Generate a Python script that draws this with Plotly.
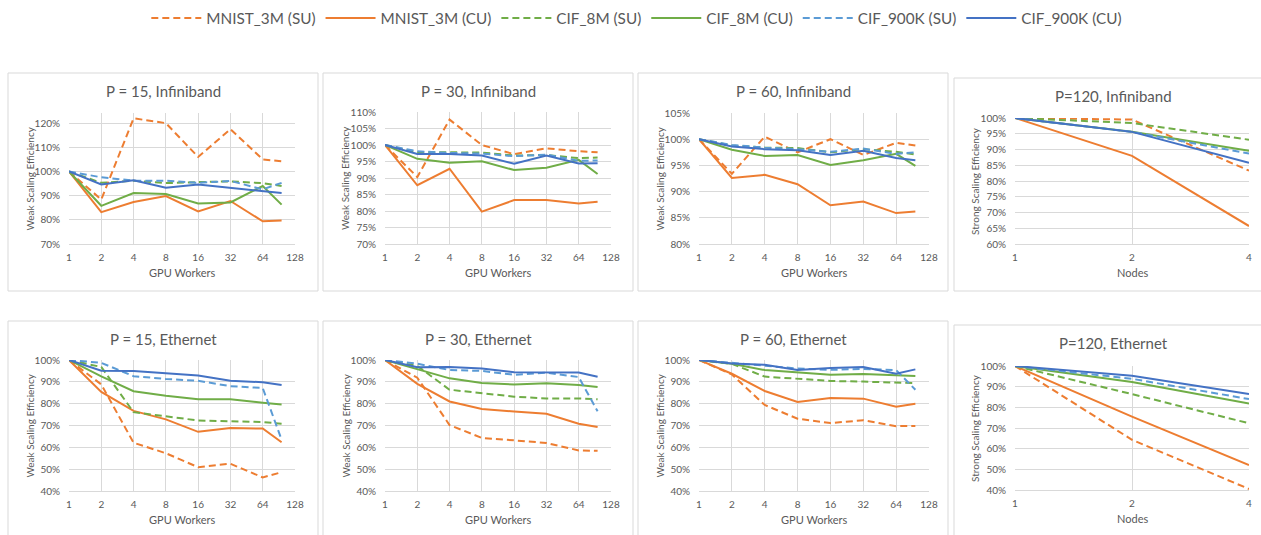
import math
import plotly.graph_objects as go

W, H = 1261, 535

series_names = ["MNIST_3M (SU)", "MNIST_3M (CU)", "CIF_8M (SU)", "CIF_8M (CU)", "CIF_900K (SU)", "CIF_900K (CU)"]
series_colors = ["#ED7D31", "#ED7D31", "#70AD47", "#70AD47", "#5B9BD5", "#4472C4"]
series_dash = ["7px,4px", "solid", "7px,4px", "solid", "7px,4px", "solid"]

gpu_workers = [1, 2, 4, 8, 16, 32, 64, 96]
gpu_ticks = [1, 2, 4, 8, 16, 32, 64, 128]
nodes = [1, 2, 4]
node_ticks = [1, 2, 4]

# P = 15, Infiniband (weak scaling, %)
ib15_mnist_su = [100, 88.4, 122, 120, 106, 117.5, 105, 104.2]
ib15_mnist_cu = [100, 83.2, 87.4, 89.8, 83.5, 87.8, 79.4, 79.7]
ib15_cif8_su = [100, 95.3, 96.2, 95.2, 95.6, 95.9, 95.2, 94.0]
ib15_cif8_cu = [100, 85.8, 91.1, 90.7, 86.8, 87.2, 94.0, 86.3]
ib15_cif900_su = [100, 97.6, 96.2, 96.2, 95.3, 96.1, 92.6, 95.3]
ib15_cif900_cu = [100, 94.6, 96.4, 93.3, 94.6, 93.2, 92.0, 91.1]

# P = 30, Infiniband
ib30_mnist_su = [100, 90.3, 107.7, 100, 97.2, 99.0, 98.1, 97.8]
ib30_mnist_cu = [100, 87.8, 92.8, 79.8, 83.3, 83.3, 82.3, 82.8]
ib30_cif8_su = [100, 97.8, 97.8, 97.7, 96.8, 97.0, 96.0, 96.2]
ib30_cif8_cu = [100, 95.8, 94.6, 95.1, 92.4, 93.1, 95.5, 91.2]
ib30_cif900_su = [100, 98.1, 97.6, 97.4, 96.6, 97.1, 95.2, 95.3]
ib30_cif900_cu = [100, 97.3, 97.3, 96.8, 94.3, 96.8, 94.4, 94.5]

# P = 60, Infiniband
ib60_mnist_su = [100, 93.4, 100.5, 97.5, 100, 97.0, 99.3, 98.8]
ib60_mnist_cu = [100, 92.6, 93.2, 91.4, 87.4, 88.1, 85.9, 86.2]
ib60_cif8_su = [100, 98.8, 98.4, 98.3, 97.5, 98.1, 97.6, 97.1]
ib60_cif8_cu = [100, 98.0, 96.8, 97.0, 95.1, 96.0, 97.2, 94.9]
ib60_cif900_su = [100, 98.9, 98.4, 98.1, 97.6, 98.2, 97.2, 97.5]
ib60_cif900_cu = [100, 98.6, 98.1, 97.9, 97.0, 97.8, 96.4, 96.0]

# P = 120, Infiniband (strong scaling, %)
ib120_mnist_su = [100, 99.5, 83.3]
ib120_mnist_cu = [100, 88.0, 65.7]
ib120_cif8_su = [100, 98.4, 93.1]
ib120_cif8_cu = [100, 95.6, 89.6]
ib120_cif900_su = [100, 95.6, 88.7]
ib120_cif900_cu = [100, 95.6, 85.8]

# P = 15, Ethernet
eth15_mnist_su = [100, 88.8, 62.1, 57.3, 50.9, 52.5, 46.2, 48.6]
eth15_mnist_cu = [100, 85.4, 76.7, 72.8, 67.1, 68.9, 68.6, 62.3]
eth15_cif8_su = [100, 96.8, 76.1, 74.3, 72.3, 71.9, 71.6, 70.8]
eth15_cif8_cu = [100, 92.5, 85.7, 83.6, 82.0, 82.0, 80.4, 79.6]
eth15_cif900_su = [100, 98.7, 92.6, 91.3, 90.5, 88.0, 87.2, 63.5]
eth15_cif900_cu = [100, 95.1, 95.0, 93.9, 92.9, 90.5, 89.8, 88.5]

# P = 30, Ethernet
eth30_mnist_su = [100, 91.9, 70.2, 64.3, 63.2, 62.0, 58.6, 58.4]
eth30_mnist_cu = [100, 89.1, 81.0, 77.6, 76.4, 75.4, 70.8, 69.3]
eth30_cif8_su = [100, 97.3, 86.4, 84.8, 83.2, 82.4, 82.4, 82.0]
eth30_cif8_cu = [100, 95.8, 91.6, 89.5, 88.8, 89.4, 88.6, 87.6]
eth30_cif900_su = [100, 98.3, 95.4, 95.0, 93.2, 94.2, 92.2, 76.5]
eth30_cif900_cu = [100, 96.7, 96.8, 96.1, 94.4, 94.2, 94.3, 92.3]

# P = 60, Ethernet
eth60_mnist_su = [100, 93.4, 79.4, 73.1, 71.1, 72.4, 69.7, 69.8]
eth60_mnist_cu = [100, 93.7, 85.8, 80.8, 82.6, 82.3, 78.6, 80.0]
eth60_cif8_su = [100, 98.2, 92.4, 91.4, 90.4, 90.1, 89.5, 89.4]
eth60_cif8_cu = [100, 98.3, 95.4, 94.3, 93.2, 93.6, 93.0, 92.7]
eth60_cif900_su = [100, 98.6, 97.2, 96.1, 95.5, 95.9, 95.4, 86.4]
eth60_cif900_cu = [100, 98.4, 97.8, 95.4, 96.3, 96.8, 93.7, 95.7]

# P = 120, Ethernet
eth120_mnist_su = [100, 64.3, 40.5]
eth120_mnist_cu = [100, 75.5, 52.1]
eth120_cif8_su = [100, 86.4, 72.3]
eth120_cif8_cu = [100, 92.3, 81.8]
eth120_cif900_su = [100, 93.8, 84.0]
eth120_cif900_cu = [100, 95.3, 86.5]

panel_titles = ["P = 15, Infiniband", "P = 30, Infiniband", "P = 60, Infiniband", "P=120, Infiniband",
                "P = 15, Ethernet", "P = 30, Ethernet", "P = 60, Ethernet", "P=120, Ethernet"]

panel_data = [
    [ib15_mnist_su, ib15_mnist_cu, ib15_cif8_su, ib15_cif8_cu, ib15_cif900_su, ib15_cif900_cu],
    [ib30_mnist_su, ib30_mnist_cu, ib30_cif8_su, ib30_cif8_cu, ib30_cif900_su, ib30_cif900_cu],
    [ib60_mnist_su, ib60_mnist_cu, ib60_cif8_su, ib60_cif8_cu, ib60_cif900_su, ib60_cif900_cu],
    [ib120_mnist_su, ib120_mnist_cu, ib120_cif8_su, ib120_cif8_cu, ib120_cif900_su, ib120_cif900_cu],
    [eth15_mnist_su, eth15_mnist_cu, eth15_cif8_su, eth15_cif8_cu, eth15_cif900_su, eth15_cif900_cu],
    [eth30_mnist_su, eth30_mnist_cu, eth30_cif8_su, eth30_cif8_cu, eth30_cif900_su, eth30_cif900_cu],
    [eth60_mnist_su, eth60_mnist_cu, eth60_cif8_su, eth60_cif8_cu, eth60_cif900_su, eth60_cif900_cu],
    [eth120_mnist_su, eth120_mnist_cu, eth120_cif8_su, eth120_cif8_cu, eth120_cif900_su, eth120_cif900_cu],
]

# layout in pixels: plot area (x0, x1, ytop, ybottom), y range, y dtick, strong?, chart box
panels = [
    dict(pa=(69, 295, 113, 244), yr=(0.70, 1.242), dt=0.10, strong=False, box=(8, 318, 73, 291)),
    dict(pa=(385, 611, 112, 244), yr=(0.70, 1.10), dt=0.05, strong=False, box=(323, 633, 73, 291)),
    dict(pa=(699, 929, 113, 244), yr=(0.80, 1.05), dt=0.05, strong=False, box=(638, 948, 73, 291)),
    dict(pa=(1015, 1249, 118, 244), yr=(0.60, 1.00), dt=0.05, strong=True, box=(954, 1262, 78, 291)),
    dict(pa=(69, 295, 360, 491), yr=(0.40, 1.00), dt=0.10, strong=False, box=(8, 318, 321, 540)),
    dict(pa=(385, 611, 360, 491), yr=(0.40, 1.00), dt=0.10, strong=False, box=(323, 633, 321, 540)),
    dict(pa=(699, 929, 360, 491), yr=(0.40, 1.00), dt=0.10, strong=False, box=(638, 948, 321, 540)),
    dict(pa=(1015, 1249, 366, 490), yr=(0.40, 1.00), dt=0.10, strong=True, box=(954, 1262, 325, 540)),
]

FONT = "Lato, Open Sans, sans-serif"
TXT = "#595959"
GRID = "#D9D9D9"


def px(x):
    return x / W


def py(y):
    return 1 - y / H


fig = go.Figure()
layout = {}
shapes = []
annotations = []

for i, p in enumerate(panels):
    n = i + 1
    xa = "x" if n == 1 else f"x{n}"
    ya = "y" if n == 1 else f"y{n}"
    x0, x1, yt, yb = p["pa"]
    xs = nodes if p["strong"] else gpu_workers
    for k in range(6):
        vals = [v / 100 for v in panel_data[i][k]]
        fig.add_trace(go.Scatter(
            x=xs, y=vals, mode="lines", name=series_names[k],
            line=dict(color=series_colors[k], width=2, dash=series_dash[k]),
            xaxis=xa, yaxis=ya, showlegend=(i == 0), legendgroup=series_names[k],
            hoverinfo="skip",
        ))
    ticks = node_ticks if p["strong"] else gpu_ticks
    xmax = 4 if p["strong"] else 128
    layout["xaxis" if n == 1 else f"xaxis{n}"] = dict(
        domain=[px(x0), px(x1)], anchor=ya, type="log", automargin=False,
        range=[0, math.log10(xmax)], tickvals=ticks, ticktext=[str(t) for t in ticks],
        showgrid=True, gridcolor=GRID, gridwidth=1,
        showline=True, linecolor=GRID, linewidth=1, zeroline=False,
        ticks="outside", ticklen=4, tickcolor="rgba(0,0,0,0)",
        tickfont=dict(family=FONT, size=10, color=TXT), fixedrange=True,
    )
    layout["yaxis" if n == 1 else f"yaxis{n}"] = dict(
        domain=[py(yb), py(yt)], anchor=xa, range=list(p["yr"]), automargin=False,
        tick0=0, dtick=p["dt"], tickformat=".0%",
        showgrid=True, gridcolor=GRID, gridwidth=1, zeroline=False, showline=False,
        ticks="outside", ticklen=6, tickcolor="rgba(0,0,0,0)",
        tickfont=dict(family=FONT, size=10, color=TXT), fixedrange=True,
    )
    # chart box
    bx0, bx1, by0, by1 = p["box"]
    shapes.append(dict(type="rect", xref="paper", yref="paper",
                       x0=px(bx0), x1=px(bx1), y0=py(by1), y1=py(by0),
                       line=dict(color=GRID, width=1), layer="below"))
    # title
    annotations.append(dict(text=panel_titles[i], xref="paper", yref="paper",
                            x=px((bx0 + bx1) / 2 + (5 if p["strong"] else 0)),
                            y=py(by0 + 18), xanchor="center", yanchor="middle", showarrow=False,
                            font=dict(family=FONT, size=15, color=TXT)))
    # x title
    annotations.append(dict(text="Nodes" if p["strong"] else "GPU Workers", xref="paper", yref="paper",
                            x=px((x0 + x1) / 2), y=py(yb + 28), xanchor="center", yanchor="middle",
                            showarrow=False, font=dict(family=FONT, size=11, color=TXT)))
    # y title
    annotations.append(dict(text="Strong Scaling Efficiency" if p["strong"] else "Weak Scaling Efficiency",
                            xref="paper", yref="paper",
                            x=px(x0 - 40), y=py((yt + yb) / 2), xanchor="center", yanchor="middle",
                            textangle=-90, showarrow=False, font=dict(family=FONT, size=10, color=TXT)))

fig.update_layout(
    width=W, height=H, margin=dict(l=0, r=0, t=0, b=0, autoexpand=False),
    paper_bgcolor="white", plot_bgcolor="white",
    showlegend=True,
    legend=dict(orientation="h", x=0.505, xanchor="center", y=py(18), yanchor="middle",
                font=dict(family=FONT, size=15.3, color=TXT), itemwidth=50,
                tracegroupgap=0, bgcolor="rgba(0,0,0,0)"),
    shapes=shapes, annotations=annotations,
    **layout,
)

fig.write_html("out.html", config={"displayModeBar": False},
               post_script="document.body.style.margin='0';document.body.style.overflow='hidden';")
